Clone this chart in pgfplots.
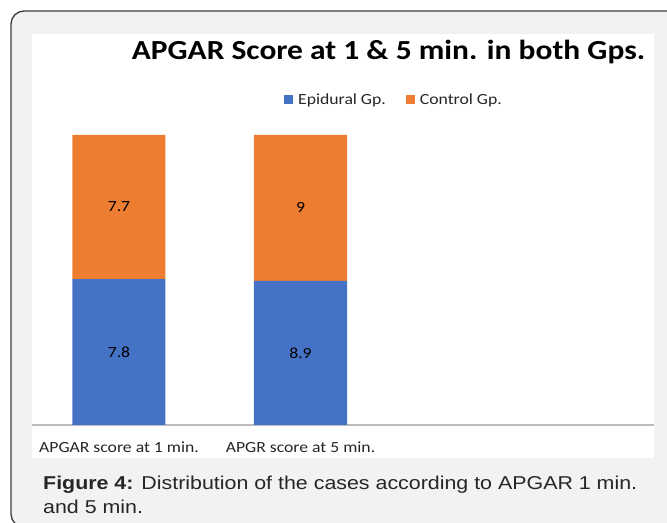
\documentclass[border=0pt]{standalone}
\usepackage{pgfplots}
\pgfplotsset{compat=1.18}
\usepackage{fontspec}
\newfontfamily\chartfont[FakeStretch=1.14]{Carlito}
\newfontfamily\capfont[FakeStretch=1.15]{Liberation Sans}
\definecolor{epi}{HTML}{4472C4}
\definecolor{ctl}{HTML}{ED7D31}
\definecolor{bg}{HTML}{F1F2F4}
\definecolor{frame}{HTML}{3C3C3C}
\definecolor{axisgray}{HTML}{BCBCBC}
\definecolor{txt}{HTML}{262626}
\begin{document}
\begin{tikzpicture}[x=1bp,y=1bp]
\useasboundingbox (0,0) rectangle (667,523);
\begin{scope}
\clip (0,0) rectangle (667,523);
\filldraw[fill=bg, draw=frame, line width=1.3bp, rounded corners=13bp] (11,-4) rectangle (700,512);
\end{scope}
\fill[white] (32,65) rectangle (654,489);
\node[anchor=base, inner sep=0pt, text=black] at (388.5,463) {\chartfont\bfseries\fontsize{27.6bp}{33bp}\selectfont APGAR Score at 1 \& 5 min. in both Gps.};
\begin{axis}[
  at={(32bp,98bp)}, anchor=south west,
  scale only axis, width=622bp, height=290bp,
  ybar stacked, bar width=93bp,
  xmin=-0.4793, xmax=2.9477, ymin=0, ymax=100,
  enlargelimits=false,
  axis y line=none,
  axis x line*=bottom,
  x axis line style={draw=axisgray, line width=1.5bp, -},
  xtick={0,1}, major tick length=0pt,
  xticklabels={APGAR score at 1 min., APGR score at 5 min.},
  xticklabel style={anchor=base, yshift=-28bp, text=txt, font=\chartfont\fontsize{15.5bp}{18bp}\selectfont},
  ytick=\empty,
  nodes near coords,
  point meta=explicit symbolic,
  every node near coord/.append style={anchor=center, text=black, font=\chartfont\fontsize{15.5bp}{18bp}\selectfont},
  legend style={at={(axis description cs:0.582,1.121)}, anchor=center, draw=none, fill=none,
    legend columns=2, font=\chartfont\fontsize{15.5bp}{18bp}\selectfont, text=txt,
    /tikz/every even column/.append style={column sep=18bp}, inner sep=0pt},
  legend image code/.code={\fill[#1] (0bp,-4.5bp) rectangle (9bp,4.5bp); \path (12bp,0bp);},
]
% values stored as shares of each bar (100% stacked); labels are the raw scores
\addplot[fill=epi, draw=none] coordinates {(0,50.32) [7.8] (1,49.72) [8.9]};
\addlegendentry{Epidural Gp.}
\addplot[fill=ctl, draw=none] coordinates {(0,49.68) [7.7] (1,50.28) [9]};
\addlegendentry{Control Gp.}
\end{axis}
\node[anchor=base west, inner sep=0pt, text=txt] at (43,33) {\capfont\fontsize{18.6bp}{22bp}\selectfont\textbf{Figure 4:} Distribution of the cases according to APGAR 1 min.};
\node[anchor=base west, inner sep=0pt, text=txt] at (43,9) {\capfont\fontsize{18.6bp}{22bp}\selectfont and 5 min.};
\end{tikzpicture}
\end{document}
